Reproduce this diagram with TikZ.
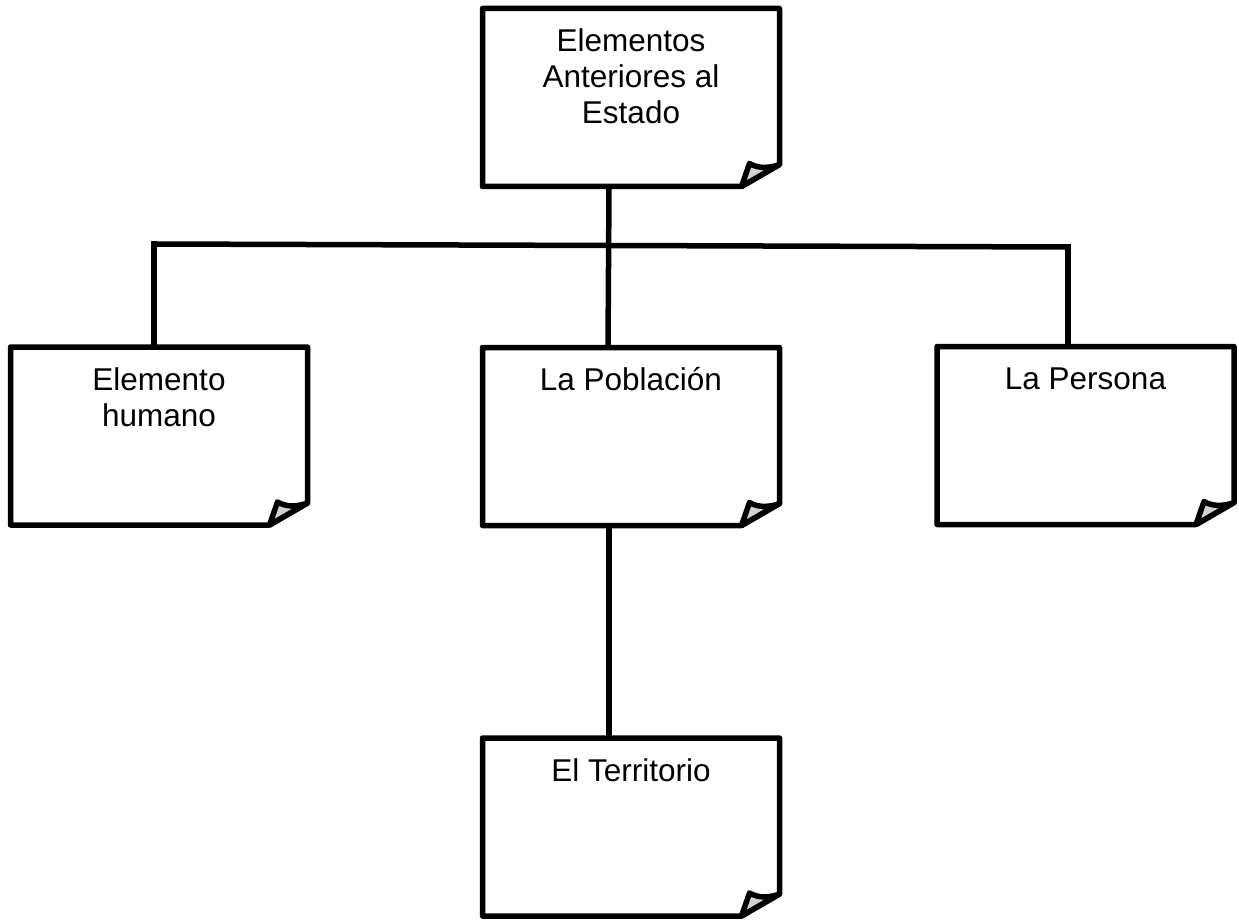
\documentclass[tikz,border=0pt]{standalone}
\usepackage{fontspec}
\setmainfont{Liberation Sans}
\begin{document}
\begin{tikzpicture}[x=1pt,y=-1pt,
  notebox/.style={rectangle,draw=none,inner sep=0pt,outer sep=0pt,minimum width=297pt,minimum height=178pt},
  boxline/.style={line width=5.5pt,line join=round,draw=black},
  conn/.style={line width=5.5pt,draw=black,line cap=rect},
  lbl/.style={inner sep=0pt,align=center,font=\fontsize{31.5}{36}\selectfont}]
\useasboundingbox (0,0) rectangle (1239,920);
\newcommand{\foldoutline}[1]{%
  \draw[boxline,fill=white] (#1.north west) -- (#1.north east) -- ([yshift=22pt]#1.south east)
     -- ([xshift=-38pt]#1.south east) -- (#1.south west) -- cycle;
  \filldraw[boxline,fill=gray!35] ([xshift=-38pt]#1.south east) -- ([xshift=-30pt,yshift=23pt]#1.south east)
     .. controls ([xshift=-20pt,yshift=17pt]#1.south east) and ([xshift=-8pt,yshift=19pt]#1.south east)
     .. ([yshift=22pt]#1.south east) -- cycle;}
\node[notebox] (top) at (631,97.5) {};
\node[notebox] (human) at (159,436) {};
\node[notebox] (pob) at (631,436.5) {};
\node[notebox] (pers) at (1085.5,435.5) {};
\node[notebox] (terr) at (631,827) {};
\coordinate (hl) at (154,244);
\coordinate (hr) at (1068,247);
\draw[conn] (hl) -- (hr);
\draw[conn] (hl) -- (hl |- human.north);
\draw[conn] (hr) -- (hr |- pers.north);
\draw[conn] ([xshift=-22pt]top.south) -- ([xshift=-23pt]pob.north);
\draw[conn] ([xshift=-22pt]pob.south) -- ([xshift=-22pt]terr.north);
\foldoutline{top}
\foldoutline{human}
\foldoutline{pob}
\foldoutline{pers}
\foldoutline{terr}
\node[lbl,anchor=north] (ttop) at ([yshift=-19pt]top.north) {\rule{0pt}{24pt}Elementos\\Anteriores al\\Estado};
\node[lbl,anchor=north] (thuman) at ([yshift=-19pt]human.north) {\rule{0pt}{24pt}Elemento\\humano};
\node[lbl,anchor=north] (tpob) at ([yshift=-19pt]pob.north) {\rule{0pt}{24pt}La Población};
\node[lbl,anchor=north] (tpers) at ([yshift=-19pt]pers.north) {\rule{0pt}{24pt}La Persona};
\node[lbl,anchor=north] (tterr) at ([yshift=-19pt]terr.north) {\rule{0pt}{24pt}El Territorio};
\end{tikzpicture}
\end{document}
